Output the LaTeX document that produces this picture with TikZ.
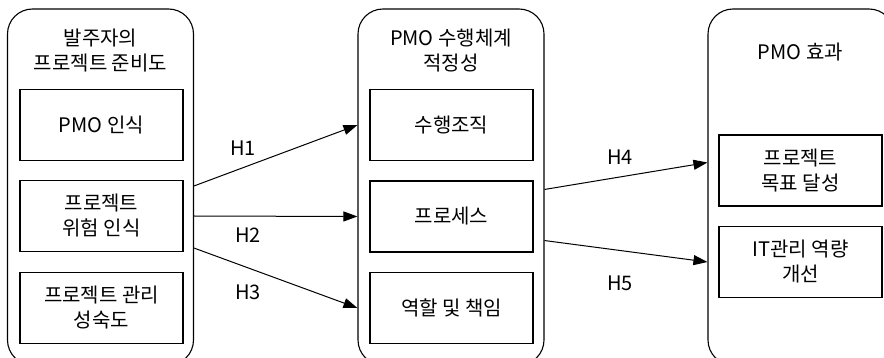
\documentclass[tikz,border=0pt]{standalone}
\usepackage{fontspec}
\newfontfamily\krfont{Noto Sans CJK KR}
\usetikzlibrary{arrows.meta,calc,positioning}
\tikzset{
	group/.style={draw,rounded corners=25pt,minimum width=186pt,minimum height=356pt,inner sep=0pt},
	item/.style={draw,minimum width=163pt,minimum height=71pt,inner sep=0pt,align=center},
	heading/.style={align=center},
	hyp/.style={-{Triangle[length=14pt,width=10pt]},line width=1pt}
}
\begin{document}
\begin{tikzpicture}[x=1pt,y=-1pt,line width=1.1pt,font=\krfont\fontsize{20}{25}\selectfont]
\clip (0,0) rectangle (884,358);
\node[group] (readiness) at (100.5,187) {};
\node[group] (system) at (451,187) {};
\node[group] (effect) at (801,187) {};
\node[heading] (readinesstitle) at (100.5,51) {발주자의\\프로젝트 준비도};
\node[heading] (systemtitle) at (451,51) {PMO 수행체계\\적정성};
\node[heading] (effecttitle) at (800.5,52) {PMO 효과};
\node[item] (pmo) at (101.5,125) {PMO 인식};
\node[item] (risk) at (101.5,216) {프로젝트\\위험 인식};
\node[item] (maturity) at (101.5,308) {프로젝트 관리\\성숙도};
\node[item] (org) at (451.5,125) {수행조직};
\node[item] (process) at (451.5,216.5) {프로세스};
\node[item] (role) at (451.5,308) {역할 및 책임};
\node[item] (goal) at (800.5,170.5) {프로젝트\\목표 달성};
\node[item] (capability) at (800.5,262) {IT관리 역량\\개선};
\draw[hyp] ($(readiness.east |- risk.north)+(0,6)$) -- (system.west |- org);
\draw[hyp] (readiness.east |- risk) -- (system.west |- process);
\draw[hyp] ($(readiness.east |- risk.south)+(0,-4)$) -- (system.west |- role);
\draw[hyp] ($(system.east |- process.north)+(0,9)$) -- ($(effect.west |- goal)+(0,-8)$);
\draw[hyp] ($(system.east |- process.south)+(0,-12)$) -- (effect.west |- capability);
\node (h1) at (243,148) {H1};
\node (h2) at (248,235) {H2};
\node (h3) at (248,292) {H3};
\node (h4) at (620,157) {H4};
\node (h5) at (620,283) {H5};
\end{tikzpicture}
\end{document}
